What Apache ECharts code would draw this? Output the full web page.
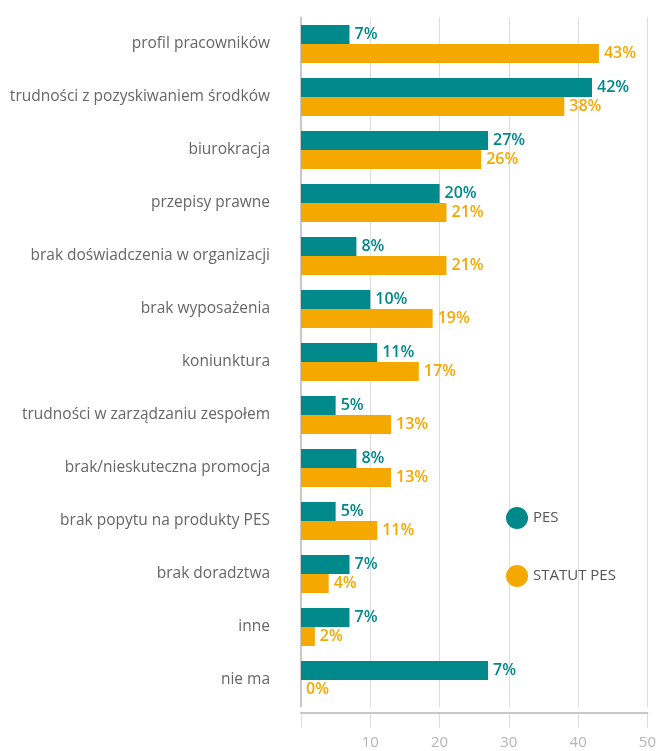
<!DOCTYPE html>
<html>
<head>
<meta charset="utf-8">
<title>Bariery</title>
<script src="https://cdn.jsdelivr.net/npm/echarts@6/dist/echarts.min.js"></script>
<style>
  html, body { margin: 0; padding: 0; background: #fff; }
  #chart { width: 659px; height: 751px; }
</style>
</head>
<body>
<div id="chart"></div>
<script>
// dane
var categories = ['profil pracowników', 'trudności z pozyskiwaniem środków', 'biurokracja', 'przepisy prawne',
  'brak doświadczenia w organizacji', 'brak wyposażenia', 'koniunktura', 'trudności w zarządzaniu zespołem',
  'brak/nieskuteczna promocja', 'brak popytu na produkty PES', 'brak doradztwa', 'inne', 'nie ma'];
var pesValues = [7, 42, 27, 20, 8, 10, 11, 5, 8, 5, 7, 7, 27];
var pesLabels = ['7%', '42%', '27%', '20%', '8%', '10%', '11%', '5%', '8%', '5%', '7%', '7%', '7%'];
var statutValues = [43, 38, 26, 21, 21, 19, 17, 13, 13, 11, 4, 2, 0];
var statutLabels = ['43%', '38%', '26%', '21%', '21%', '19%', '17%', '13%', '13%', '11%', '4%', '2%', '0%'];
var xTicks = [0, 10, 20, 30, 40, 50];

var teal = '#00898a';
var orange = '#f5a800';
var font = 'Open Sans';

var chart = echarts.init(document.getElementById('chart'));
chart.setOption({
  animation: false,
  textStyle: { fontFamily: font },
  grid: { left: 301, right: 10, top: 17.5, bottom: 44.5 },
  legend: {
    orient: 'vertical',
    left: 501, top: 502,
    itemWidth: 22, itemHeight: 22, itemGap: 36,
    icon: 'circle',
    textStyle: { color: '#555', fontSize: 15, fontFamily: font },
    data: ['PES', 'STATUT PES']
  },
  xAxis: {
    type: 'value',
    min: xTicks[0], max: xTicks[xTicks.length - 1], interval: 10,
    offset: 6,
    axisLine: { show: true, lineStyle: { color: '#c8c8c8', width: 2 } },
    axisTick: { show: true, length: 15, lineStyle: { color: '#bbb', type: 'dotted' } },
    axisLabel: {
      margin: 23, color: '#b5b5b5', fontSize: 15,
      formatter: function (v) { return v === 0 ? '' : v; }
    },
    splitLine: { show: true, lineStyle: { color: '#bbb', type: 'dotted' } }
  },
  yAxis: {
    type: 'category',
    inverse: true,
    data: categories,
    axisLine: { show: true, lineStyle: { color: '#c8c8c8', width: 2 } },
    axisTick: { show: false },
    axisLabel: { margin: 31, color: '#666', fontSize: 15.5 }
  },
  series: [
    {
      name: 'PES', type: 'bar', data: pesValues,
      barWidth: 19, barGap: '0%',
      itemStyle: { color: teal },
      label: {
        show: true, position: 'right', distance: 5,
        color: teal, fontSize: 16, fontWeight: 600,
        formatter: function (p) { return pesLabels[p.dataIndex]; }
      }
    },
    {
      name: 'STATUT PES', type: 'bar', data: statutValues,
      barWidth: 19,
      itemStyle: { color: orange },
      label: {
        show: true, position: 'right', distance: 5,
        color: orange, fontSize: 16, fontWeight: 600,
        formatter: function (p) { return statutLabels[p.dataIndex]; }
      }
    }
  ]
});
</script>
</body>
</html>
